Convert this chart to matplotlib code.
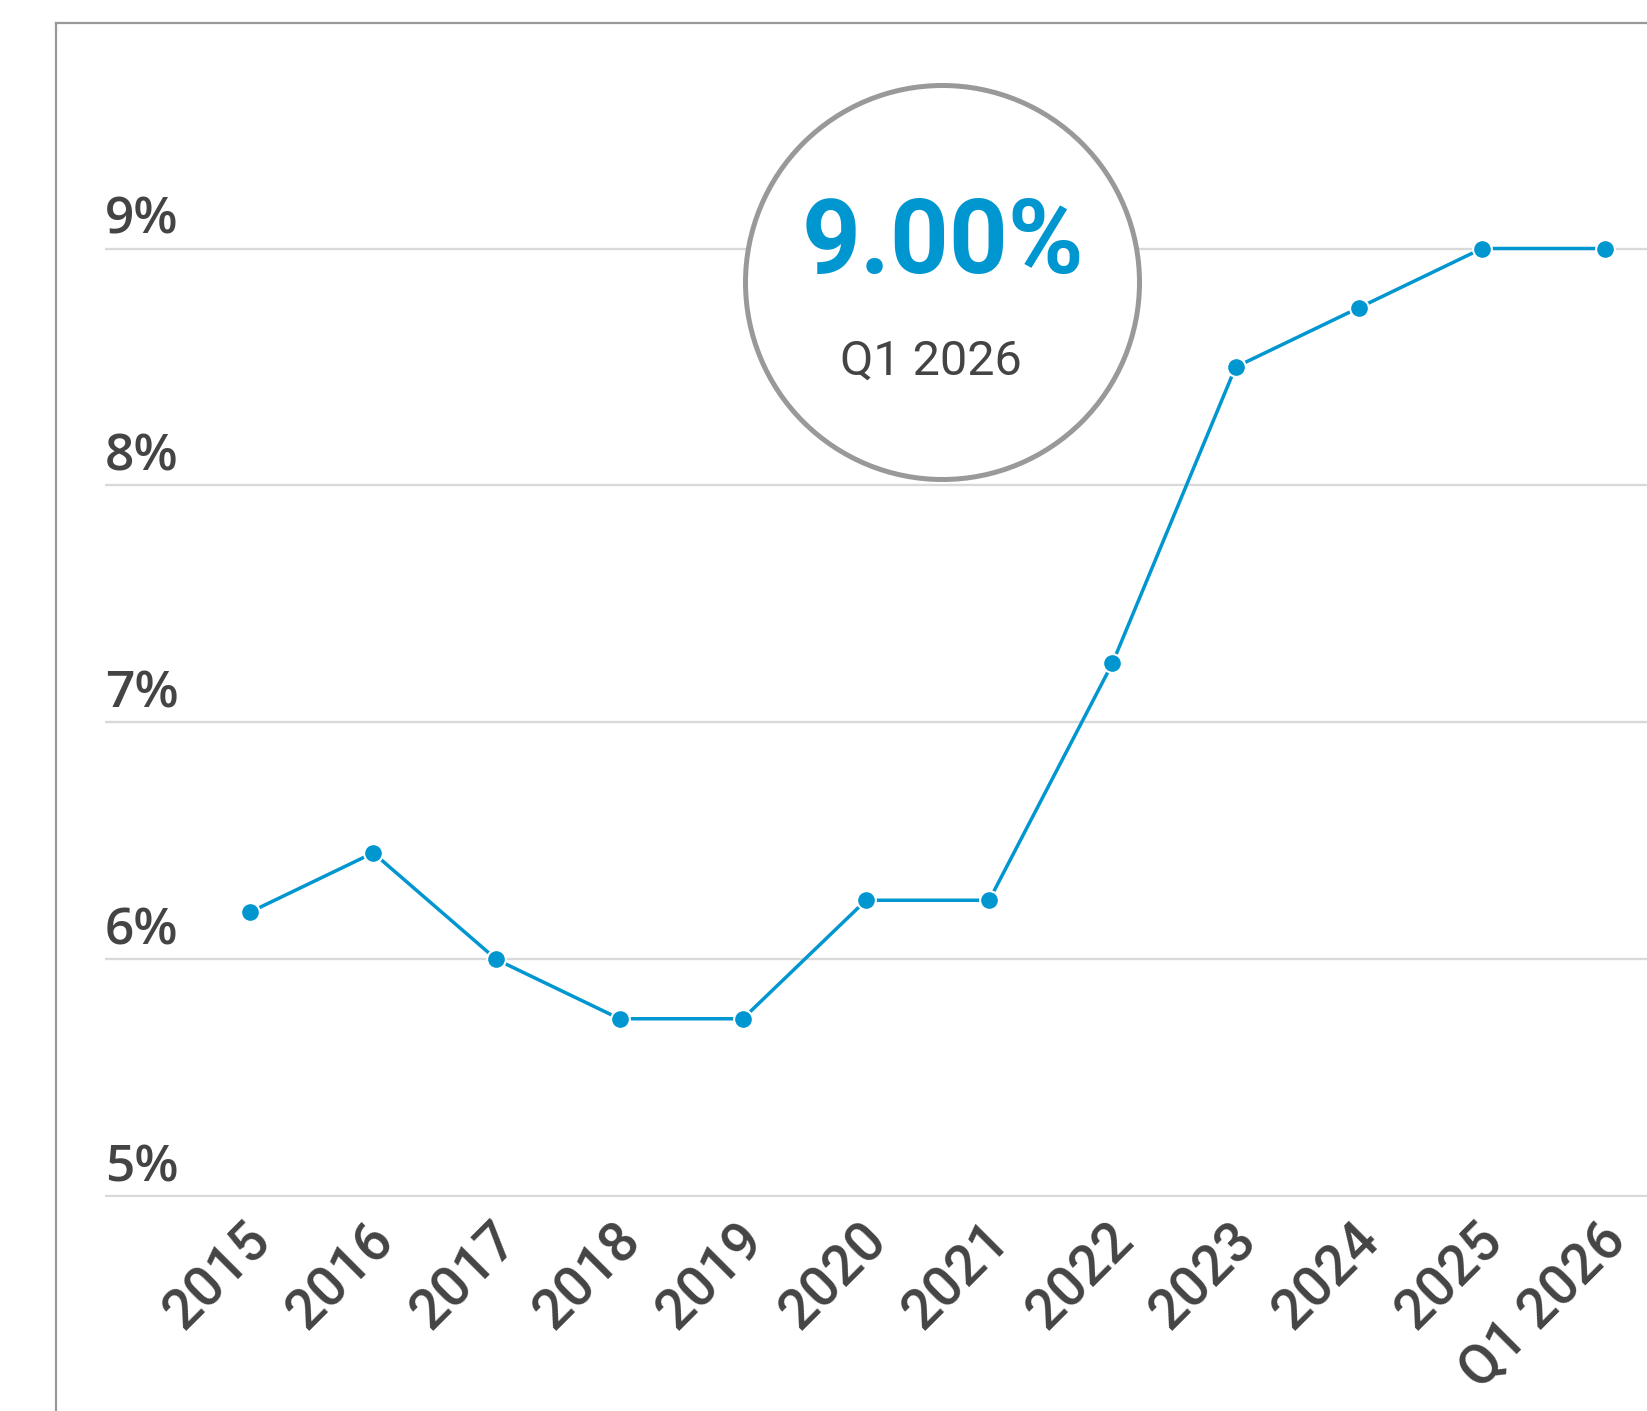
import matplotlib
matplotlib.use('Agg')
import matplotlib.pyplot as plt
from matplotlib.patches import Ellipse
from matplotlib.lines import Line2D
from matplotlib.transforms import ScaledTranslation

# data
years = ['2015', '2016', '2017', '2018', '2019', '2020', '2021',
         '2022', '2023', '2024', '2025', 'Q1 2026']
rates = [6.2, 6.45, 6.0, 5.75, 5.75, 6.25, 6.25, 7.25, 8.5, 8.75, 9.0, 9.0]
y_ticks = [5, 6, 7, 8, 9]
big_value = '9.00%'
big_label = 'Q1 2026'

blue = '#0096d0'
dark = '#444444'

W, H = 1647, 1411
fig = plt.figure(figsize=(W / 100, H / 100), dpi=100)

# plot area in pixels: x from 105 to right edge, 5% line at y=1196.5
ax = fig.add_axes([105 / W, 1 - 1196.5 / H, 1 - 105 / W, (1196.5 - 35.2) / H])
ax.set_xlim(-1.177, 11.339)
ax.set_ylim(5, 9.9)

for v in y_ticks:
    ax.axhline(v, color='#d9d9d9', linewidth=1.7, zorder=1)
    ax.annotate(f'{v}%', xy=(0, v), xycoords=('axes fraction', 'data'),
                xytext=(0, 10.5), textcoords='offset points',
                ha='left', va='baseline', fontsize=37, color=dark,
                family='Open Sans', fontweight='semibold')

x = list(range(len(years)))
ax.plot(x, rates, color=blue, linewidth=2.5, marker='o', markersize=13.5,
        markerfacecolor=blue, markeredgecolor='white', markeredgewidth=1.5,
        zorder=3, clip_on=False)

ax.set_yticks([])
ax.set_xticks(x)
ax.set_xticklabels(years, rotation=45, ha='right', va='top',
                   rotation_mode='anchor', fontsize=40, color=dark,
                   family='Roboto', fontweight='medium')
ax.tick_params(axis='x', length=0, pad=12)
# nudge the rotated labels a little to the left
shift = ScaledTranslation(-6 / 100, 0, fig.dpi_scale_trans)
for lbl in ax.get_xticklabels():
    lbl.set_transform(lbl.get_transform() + shift)
for s in ax.spines.values():
    s.set_visible(False)

# outer frame (top and left edges only visible)
fig.add_artist(Line2D([56 / W, 56 / W], [0, 1 - 23 / H],
                      transform=fig.transFigure, color='#999999', linewidth=1.6))
fig.add_artist(Line2D([56 / W, 1], [1 - 23 / H, 1 - 23 / H],
                      transform=fig.transFigure, color='#999999', linewidth=1.6))

# highlight bubble
cx, cy, r = 942.5, 282.5, 197
fig.add_artist(Ellipse((cx / W, 1 - cy / H), 2 * r / W, 2 * r / H,
                       transform=fig.transFigure, facecolor='white',
                       edgecolor='#999999', linewidth=3.6, zorder=5))
fig.text(943 / W, 1 - 273 / H, big_value, ha='center', va='baseline',
         fontsize=74, color=blue, family='Roboto', fontweight='bold', zorder=6)
fig.text(931 / W, 1 - 375 / H, big_label, ha='center', va='baseline',
         fontsize=35, color=dark, family='Roboto', zorder=6)

plt.savefig('out.png', dpi=100)
